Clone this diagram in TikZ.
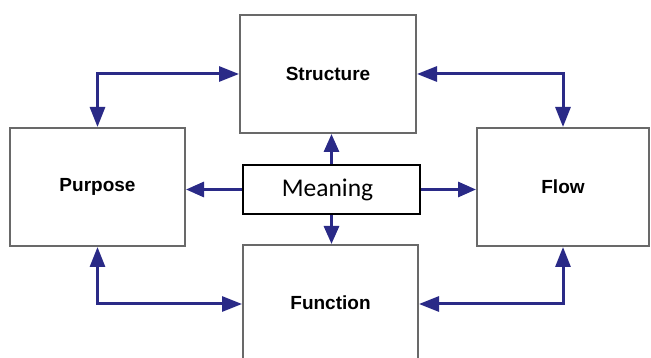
\documentclass[tikz,border=0pt]{standalone}
\usepackage{fontspec}
\newfontfamily\labfont{Liberation Sans}
\newfontfamily\meanfont{Carlito}
\usetikzlibrary{arrows.meta}
\definecolor{navy}{RGB}{42,42,135}
\definecolor{boxgray}{RGB}{105,105,105}
\tikzset{
  grayblock/.style={draw=boxgray, line width=2pt, fill=white, rectangle, inner sep=0pt,
    font=\labfont\bfseries\fontsize{19}{22}\selectfont},
  meanblock/.style={draw=black, line width=1.6pt, fill=white, rectangle, inner sep=0pt,
    font=\meanfont\fontsize{25.5}{29}\selectfont},
  link/.style={draw=navy, line width=3pt, {Triangle[length=20pt,width=15pt]}-{Triangle[length=20pt,width=15pt]}},
  onelink/.style={draw=navy, line width=3pt, -{Triangle[length=18pt,width=15pt]}}
}
\begin{document}
\begin{tikzpicture}[x=1pt,y=-1pt]
\useasboundingbox (0,0) rectangle (651,358);
\clip (0,0) rectangle (651,358);
\fill[white] (0,0) rectangle (651,358);
\node[grayblock, minimum width=176pt, minimum height=118pt] (structure) at (328,74) {Structure};
\node[grayblock, minimum width=175pt, minimum height=118pt] (purpose) at (97.5,187) {\raisebox{-1.5pt}{Purpose}};
\node[grayblock, minimum width=172pt, minimum height=118pt] (flow) at (563,187) {Flow};
\node[grayblock, minimum width=175pt, minimum height=118pt] (function) at (330.5,304) {\raisebox{2.5pt}{Function}};
\draw[link] (structure.west) -| (purpose.north);
\draw[link] (structure.east) -| (flow.north);
\draw[link] (purpose.south) |- (function.west);
\draw[link] (flow.south) |- (function.east);
\node[meanblock, minimum width=177pt, minimum height=49pt] (meaning) at (331.5,189.5) {\hspace*{-8pt}Meaning};
\draw[onelink] (meaning.north) -- (meaning.north |- structure.south);
\draw[onelink] (meaning.south) -- (meaning.south |- function.north);
\draw[onelink] (meaning.west) -- (meaning.west -| purpose.east);
\draw[onelink] (meaning.east) -- (meaning.east -| flow.west);
\end{tikzpicture}
\end{document}
